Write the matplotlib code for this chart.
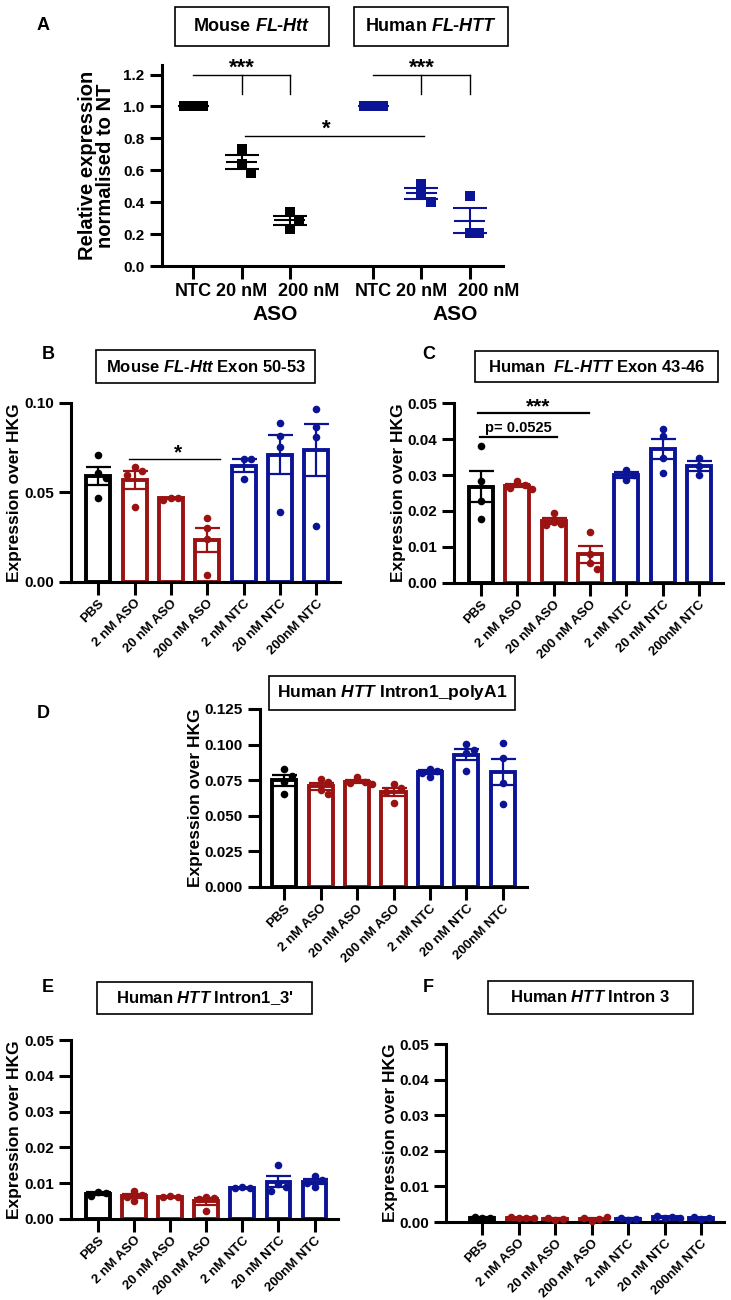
import numpy as np
import matplotlib
matplotlib.use("Agg")
import matplotlib.pyplot as plt
from matplotlib.patches import Rectangle
from matplotlib.ticker import FormatStrFormatter
from matplotlib.transforms import ScaledTranslation

plt.rcParams["font.family"] = ["Liberation Sans", "DejaVu Sans"]
plt.rcParams["font.weight"] = "bold"
plt.rcParams["axes.labelweight"] = "bold"
plt.rcParams["mathtext.fontset"] = "custom"
plt.rcParams["mathtext.rm"] = "Liberation Sans:bold"
plt.rcParams["mathtext.bf"] = "Liberation Sans:bold"
plt.rcParams["mathtext.it"] = "Liberation Sans:italic:bold"

BLACK = "#000000"
RED = "#9a1212"
BLUE = "#0c1496"

# panel A: relative expression (squares)
a_labels = ["NTC", "20 nM", "200 nM"]
a_mouse = [[1.0, 1.0, 1.0], [0.735, 0.639, 0.582], [0.337, 0.289, 0.232]]
a_human = [[1.0, 1.0, 1.0], [0.513, 0.450, 0.402], [0.440, 0.205, 0.205]]

# panels B-F: expression over HKG
bar_labels = ["PBS", "2 nM ASO", "20 nM ASO", "200 nM ASO",
              "2 nM NTC", "20 nM NTC", "200nM NTC"]
bar_colors = [BLACK, RED, RED, RED, BLUE, BLUE, BLUE]

b_vals = [[0.071, 0.061, 0.058, 0.047],
          [0.064, 0.062, 0.060, 0.042],
          [0.047, 0.047, 0.046],
          [0.036, 0.030, 0.024, 0.004],
          [0.0687, 0.0687, 0.0577],
          [0.0888, 0.0814, 0.0754, 0.0393],
          [0.0968, 0.0866, 0.0810, 0.0315]]
c_vals = [[0.0380, 0.0282, 0.0229, 0.0178],
          [0.0282, 0.0272, 0.0264, 0.0262],
          [0.0195, 0.0170, 0.0165, 0.0160],
          [0.0143, 0.0080, 0.0055, 0.0040],
          [0.0315, 0.0300, 0.0285],
          [0.0428, 0.0407, 0.0347, 0.0306],
          [0.0347, 0.0326, 0.0301]]
d_vals = [[0.0827, 0.0776, 0.0740, 0.0652],
          [0.0759, 0.0736, 0.0682, 0.0654],
          [0.0769, 0.0740, 0.0729, 0.0722],
          [0.0722, 0.0694, 0.0670, 0.0589],
          [0.0830, 0.0818, 0.0804, 0.0769],
          [0.1002, 0.0963, 0.0939, 0.0815],
          [0.1009, 0.0909, 0.0729, 0.0584]]
e_vals = [[0.0076, 0.0072, 0.0064],
          [0.0077, 0.0068, 0.0062, 0.0050],
          [0.0063, 0.0062, 0.0061],
          [0.0062, 0.0060, 0.0055, 0.0021],
          [0.0088, 0.0087, 0.0086],
          [0.0151, 0.0098, 0.0090, 0.0078],
          [0.0120, 0.0108, 0.0100, 0.0090]]
f_vals = [[0.0010, 0.0012, 0.0014],
          [0.0010, 0.0012, 0.0014, 0.0011],
          [0.0006, 0.0008, 0.0012],
          [0.0002, 0.0008, 0.0012, 0.0014],
          [0.0005, 0.0008, 0.0012],
          [0.0010, 0.0013, 0.0016, 0.0012],
          [0.0008, 0.0012, 0.0013]]

W, H = 731, 1300
fig = plt.figure(figsize=(W / 100, H / 100), dpi=100)


def px_axes(l, t, r, b):
    return fig.add_axes([l / W, 1 - b / H, (r - l) / W, (b - t) / H])


def style(ax):
    for s in ["top", "right"]:
        ax.spines[s].set_visible(False)
    for s in ["left", "bottom"]:
        ax.spines[s].set_linewidth(2.2)
    ax.tick_params(width=2.2, length=9, labelsize=11)


def boxed(l, t, r, b, text, size):
    fig.patches.append(Rectangle((l / W, 1 - b / H), (r - l) / W, (b - t) / H,
                                 transform=fig.transFigure, fill=False,
                                 edgecolor="black", lw=1.2))
    fig.text((l + r) / 2 / W, 1 - (t + b) / 2 / H, text, ha="center",
             va="center", fontsize=size)


def letter(x, y, s):
    fig.text(x / W, 1 - y / H, s, ha="center", va="center", fontsize=13)


def swarm(ax, x0, vals, diam):
    # spread overlapping points sideways, like a dot plot
    pts = ax.transData.transform([(x0, v) for v in vals])
    placed, xs = [], []
    for px, py in pts:
        for k in [0, 1, -1, 2, -2, 3, -3]:
            xx = px + k * diam
            if all(np.hypot(xx - qx, py - qy) >= diam * 0.999 for qx, qy in placed):
                break
        placed.append((xx, py))
        xs.append(ax.transData.inverted().transform((xx, py))[0])
    return xs


def sem(v):
    return np.std(v, ddof=1) / np.sqrt(len(v))


def bar_panel(ax, vals, ymax, step, fmt, xlim):
    style(ax)
    x = np.arange(len(vals))
    ax.set_xlim(*xlim)
    ax.set_ylim(0, ymax)
    means = [np.mean(v) for v in vals]
    ax.bar(x, means, width=0.66, facecolor="white", edgecolor=bar_colors,
           linewidth=2.8, zorder=2)
    for i, v in enumerate(vals):
        ax.scatter(swarm(ax, i, v, 7.5), v, s=30, color=bar_colors[i],
                   linewidths=0, zorder=3, clip_on=False)
        ax.errorbar(i, means[i], yerr=sem(v), fmt="none", ecolor=bar_colors[i],
                    capsize=9, elinewidth=1.6, capthick=1.6, zorder=4)
    ax.set_yticks(np.arange(0, ymax + step / 2, step))
    ax.yaxis.set_major_formatter(FormatStrFormatter(fmt))
    ax.set_xticks(x)
    ax.set_xticklabels(bar_labels, rotation=45, ha="right",
                       rotation_mode="anchor", fontsize=9.5)
    ax.tick_params(axis="x", pad=2)
    ax.set_ylabel("Expression over HKG", fontsize=12.5, labelpad=1)


# ---- panel A
ax = px_axes(162, 65, 503, 266)
style(ax)
ax.set_xlim(-0.65, 6.42)
ax.set_ylim(0, 1.26)
pos_m = np.arange(3)
pos_h = np.arange(3) + 3.73
for pos, groups, col in [(pos_m, a_mouse, BLACK), (pos_h, a_human, BLUE)]:
    for p, v in zip(pos, groups):
        ax.scatter(swarm(ax, p, v, 9.5), v, marker="s", s=50, color=col,
                   linewidths=0, zorder=3)
        m = np.mean(v)
        ax.hlines(m, p - 0.32, p + 0.32, color=col, lw=1.5, zorder=4)
        if sem(v) > 0:
            ax.errorbar(p, m, yerr=sem(v), fmt="none", ecolor=col, capsize=12,
                        elinewidth=1.5, capthick=1.5, zorder=4)
ax.set_yticks(np.arange(0, 1.21, 0.2))
ax.yaxis.set_major_formatter(FormatStrFormatter("%.1f"))
ax.set_xticks(np.concatenate([pos_m, pos_h]))
ax.set_xticklabels(a_labels * 2, fontsize=13)
for i in (2, 5):
    lab = ax.get_xticklabels()[i]
    lab.set_transform(lab.get_transform() + ScaledTranslation(0.19, 0, fig.dpi_scale_trans))
for c in (pos_m[1] + 0.7, pos_h[1] + 0.7):
    ax.annotate("ASO", xy=(c, 0), xycoords=("data", "axes fraction"),
                xytext=(0, -35), textcoords="offset points", ha="center",
                va="center", fontsize=15, annotation_clip=False)
ax.set_ylabel("Relative expression\nnormalised to NT", fontsize=14.5,
              labelpad=6, linespacing=0.95)
for pos in (pos_m, pos_h):
    ax.plot([pos[0], pos[2]], [1.2, 1.2], color="black", lw=1, clip_on=False)
    for p in pos[1:]:
        ax.plot([p, p], [1.08, 1.2], color="black", lw=1, clip_on=False)
    ax.text(pos[1], 1.205, "***", ha="center", va="baseline", fontsize=16)
ax.plot([1.08, 4.79], [0.817, 0.817], color="black", lw=1)
ax.text(2.75, 0.822, "*", ha="center", va="baseline", fontsize=16)
boxed(175, 7, 329, 46, r"Mouse $\mathit{FL}$-$\mathit{Htt}$", 13)
boxed(354, 7, 508, 46, r"Human $\mathit{FL}$-$\mathit{HTT}$", 13)
letter(43, 25, "A")

# ---- panel B
ax = px_axes(71, 403, 340, 582)
bar_panel(ax, b_vals, 0.10, 0.05, "%.2f", (-0.75, 6.65))
ax.plot([0.85, 3.35], [0.0687, 0.0687], color="black", lw=1)
ax.text(2.2, 0.0690, "*", ha="center", va="baseline", fontsize=15)
boxed(96, 350, 315, 383, r"Mouse $\mathit{FL}$-$\mathit{Htt}$ Exon 50-53", 12)
letter(48, 355, "B")

# ---- panel C
ax = px_axes(454, 403, 723, 583)
bar_panel(ax, c_vals, 0.05, 0.01, "%.2f", (-0.74, 6.66))
ax.plot([-0.08, 2.97], [0.0472, 0.0472], color="black", lw=1.6, clip_on=False)
ax.text(1.57, 0.0474, "***", ha="center", va="baseline", fontsize=15)
ax.plot([-0.03, 2.09], [0.0406, 0.0406], color="black", lw=1.6)
ax.text(1.02, 0.0419, "p= 0.0525", ha="center", va="baseline", fontsize=10.5)
boxed(475, 351, 718, 382, r"Human  $\mathit{FL}$-$\mathit{HTT}$ Exon 43-46", 12)
letter(429, 355, "C")

# ---- panel D
ax = px_axes(260, 709, 527, 887)
bar_panel(ax, d_vals, 0.125, 0.025, "%.3f", (-0.66, 6.66))
boxed(269, 676, 515, 710, r"Human $\mathit{HTT}$ Intron1_polyA1", 12.5)
letter(43, 714, "D")

# ---- panel E
ax = px_axes(71, 1040, 338, 1219)
bar_panel(ax, e_vals, 0.05, 0.01, "%.2f", (-0.75, 6.65))
boxed(97, 982, 312, 1014, r"Human $\mathit{HTT}$ Intron1_3'", 12)
letter(48, 988, "E")

# ---- panel F
ax = px_axes(446, 1044, 724, 1222)
bar_panel(ax, f_vals, 0.05, 0.01, "%.2f", (-1.0, 6.63))
boxed(488, 981, 693, 1014, r"Human $\mathit{HTT}$ Intron 3", 12)
letter(428, 988, "F")

fig.savefig("out.png", dpi=100)
